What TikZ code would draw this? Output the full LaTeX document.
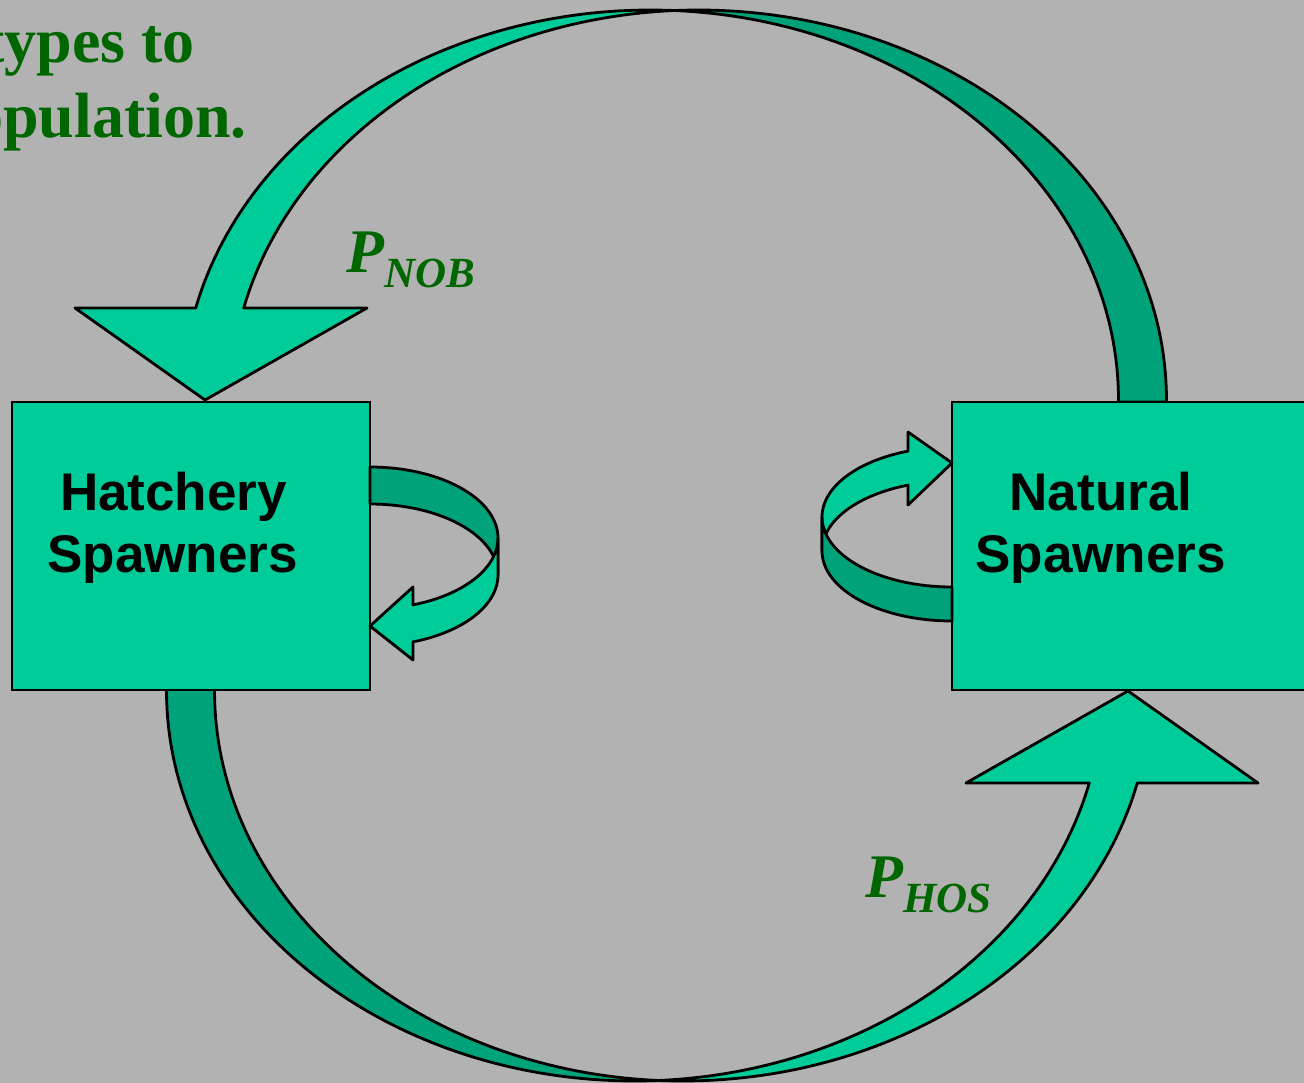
\documentclass[tikz,border=0pt]{standalone}
\usepackage{fontspec}
\setmainfont{Liberation Serif}
\newfontfamily\boxfont{Liberation Sans}
\definecolor{bg}{HTML}{B2B2B2}
\definecolor{lightg}{HTML}{00CC99}
\definecolor{darkg}{HTML}{00A27A}
\definecolor{titlegreen}{HTML}{006600}
\newcommand\mybigarc{%
  % light (arrow) part
  \draw[band, fill=lightg] plot[domain=272.94:193.65, samples=70, variable=\t] ({650.5+468*cos(\t)},{400+390*sin(\t)})
    -- (75,308) -- (205,400) -- (367,308)
    -- plot[domain=193.65:267.06, samples=70, variable=\t] ({698.5+468*cos(\t)},{400+390*sin(\t)}) -- cycle;
  % dark (back) part
  \draw[band, fill=darkg] (1166.5,402)
    -- plot[domain=360:267.06, samples=70, variable=\t] ({698.5+468*cos(\t)},{400+390*sin(\t)})
    -- plot[domain=272.94:360, samples=70, variable=\t] ({650.5+468*cos(\t)},{400+390*sin(\t)})
    -- (1118.5,402) -- cycle;
}
\begin{document}
\begin{tikzpicture}[x=1pt,y=-1pt,
  band/.style={draw=black, line width=2.8pt, line join=round},
  boxst/.style={draw=black, fill=lightg, line width=2.8pt, minimum width=358pt, minimum height=288pt, inner sep=0pt, outer sep=0pt},
  boxtext/.style={font=\boxfont\bfseries\fontsize{53}{62}\selectfont, anchor=base, inner sep=0pt},
  titletext/.style={font=\bfseries\fontsize{64}{75}\selectfont, text=titlegreen, anchor=base east, inner sep=0pt},
  plabel/.style={font=\bfseries\itshape\fontsize{62}{62}\selectfont, text=titlegreen, anchor=base west, inner sep=0pt}
]
\useasboundingbox (0,0) rectangle (1304,1083);
\clip (0,0) rectangle (1304,1083);
\fill[bg] (0,0) rectangle (1304,1083);

% title fragments (cut at the left edge, as in the reference)
\node[titletext] (t1) at (195,63) {types to};
\node[titletext] (t2) at (247,138) {population.};

% big curved arrows
\mybigarc
\begin{scope}[rotate around={180:(666.5,545.5)}]
  \mybigarc
\end{scope}

% boxes
\node[boxst] (hatch) at (191,546) {};
\node[boxst] (natural) at (1131,546) {};

\node[boxtext] (h1) at (173.5,510) {Hatchery};
\node[boxtext] (h2) at (172.5,572) {Spawners};
\node[boxtext] (n1) at (1101,510) {Natural};
\node[boxtext] (n2) at (1100.5,572) {Spawners};

% hatchery self loop
\draw[band, fill=darkg] (370,467)
  -- plot[domain=270:360, samples=40, variable=\t] ({370+128*cos(\t)},{538+71*sin(\t)})
  -- plot[domain=360:270, samples=40, variable=\t] ({370+128*cos(\t)},{575+71*sin(\t)}) -- cycle;
\draw[band, fill=lightg] (498,538)
  -- plot[domain=0:70.4, samples=40, variable=\t] ({370+128*cos(\t)},{538+71*sin(\t)})
  -- (413,587) -- (370,626) -- (413,660)
  -- plot[domain=70.4:0, samples=40, variable=\t] ({370+128*cos(\t)},{575+71*sin(\t)}) -- cycle;

% natural self loop
\draw[band, fill=lightg] (822,517)
  -- plot[domain=180:250.2, samples=40, variable=\t] ({952+130*cos(\t)},{517+70*sin(\t)})
  -- (908,432) -- (952,463) -- (908,505)
  -- plot[domain=250.2:180, samples=40, variable=\t] ({952+130*cos(\t)},{551+70*sin(\t)}) -- cycle;
\draw[band, fill=darkg] (822,517)
  -- plot[domain=180:90, samples=40, variable=\t] ({952+130*cos(\t)},{517+70*sin(\t)})
  -- plot[domain=90:180, samples=40, variable=\t] ({952+130*cos(\t)},{551+70*sin(\t)}) -- cycle;

% labels
\node[plabel] (pnob) at (346,273) {P\raisebox{-15pt}{\fontsize{43}{43}\selectfont NOB}};
\node[plabel] (phos) at (865,897) {P\raisebox{-15pt}{\fontsize{43}{43}\selectfont HOS}};
\end{tikzpicture}
\end{document}
